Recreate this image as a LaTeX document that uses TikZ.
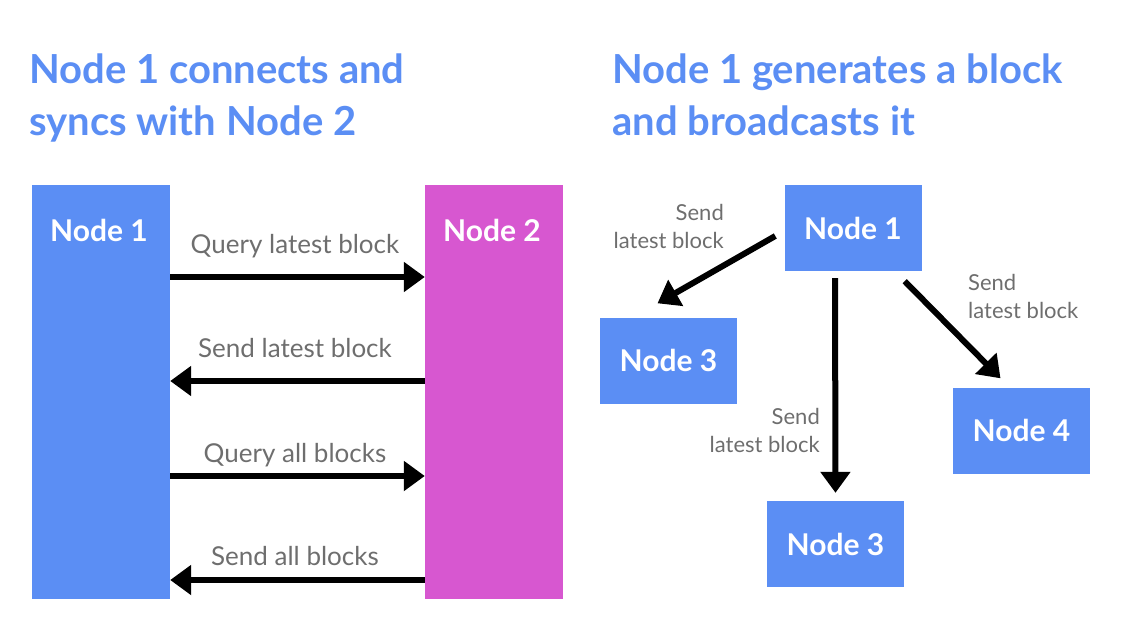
\documentclass[tikz,border=0pt]{standalone}
\usepackage{fontspec}
\setmainfont{Lato}
\usetikzlibrary{arrows.meta,calc}
\definecolor{nblue}{HTML}{5B8EF4}
\definecolor{nmag}{HTML}{D757D0}
\definecolor{tgrey}{HTML}{6E6E6E}
\begin{document}
\begin{tikzpicture}[x=1pt,y=-1pt,
  title/.style={anchor=north west,inner sep=0pt,align=left,text=nblue,font=\fontsize{40}{52}\selectfont\bfseries},
  tall/.style={draw=none,fill=#1,minimum width=138pt,minimum height=414pt,inner sep=0pt},
  box/.style={fill=nblue,minimum width=137pt,minimum height=86pt,inner sep=0pt,text=white,font=\fontsize{30}{34}\selectfont\bfseries},
  boxlbl/.style={text=white,font=\fontsize{30}{34}\selectfont\bfseries,inner sep=0pt},
  msg/.style={text=tgrey,font=\fontsize{26}{30}\selectfont,inner sep=0pt,anchor=base},
  smsg/.style={text=tgrey,font=\fontsize{22}{28}\selectfont,inner sep=0pt},
  arr/.style={line width=6pt,-{Triangle[length=21pt,width=29pt]}}
]
\useasboundingbox (0,0) rectangle (1148,626);
% titles
\node[title] (t1) at (29,54) {Node 1 connects and\\syncs with Node 2};
\node[title] (t2) at (612,54) {Node 1 generates a block\\and broadcasts it};
% left panel
\node[tall=nblue] (a1) at (101,392) {};
\node[tall=nmag] (a2) at (494,392) {};
\node[boxlbl] (a1l) at (99,230) {Node 1};
\node[boxlbl] (a2l) at (492,230) {Node 2};
\draw[arr] (a1.east |- 0,277) -- (a2.west |- 0,277);
\draw[arr] (a2.west |- 0,381) -- (a1.east |- 0,381);
\draw[arr] (a1.east |- 0,476) -- (a2.west |- 0,476);
\draw[arr] (a2.west |- 0,580) -- (a1.east |- 0,580);
\node[msg] (m1) at (295,253) {Query latest block};
\node[msg] (m2) at (295,357) {Send latest block};
\node[msg] (m3) at (295,462) {Query all blocks};
\node[msg] (m4) at (295,565) {Send all blocks};
% right panel
\node[box] (b1) at (853,228) {Node 1};
\node[box] (b3) at (668.5,360.5) {Node 3};
\node[box] (b4) at (1021.5,430.5) {Node 4};
\node[box] (b5) at (835.5,544) {Node 3};
\draw[arr] ([shift={(-9,8)}]b1.west) -- ([shift={(-11,-14)}]b3.north);
\draw[arr] ([shift={(-18,7)}]b1.south) -- ([shift={(0,-8)}]b5.north);
\draw[arr] ([shift={(-17,10)}]b1.south east) -- ([shift={(-21,-9)}]b4.north);
\node[smsg,anchor=north east,align=right] (s1) at (724,204) {Send\\latest block};
\node[smsg,anchor=north west,align=left] (s2) at (968,274) {Send\\latest block};
\node[smsg,anchor=north east,align=right] (s3) at (820,408) {Send\\latest block};
\end{tikzpicture}
\end{document}
